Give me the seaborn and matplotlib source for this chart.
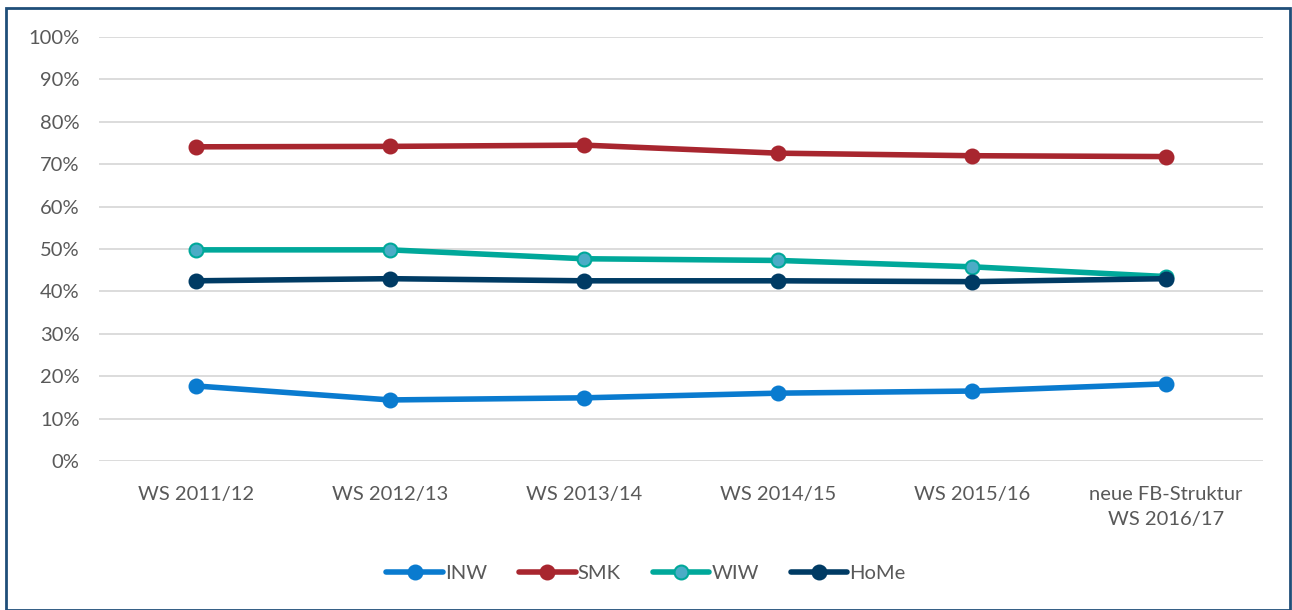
import numpy as np
import pandas as pd
import matplotlib.pyplot as plt
import seaborn as sns
from matplotlib.patches import Rectangle

semester = ["WS 2011/12", "WS 2012/13", "WS 2013/14", "WS 2014/15", "WS 2015/16",
            "neue FB-Struktur\nWS 2016/17"]
inw = [17.7, 14.4, 14.9, 16.0, 16.5, 18.2]
smk = [74.1, 74.2, 74.5, 72.6, 72.0, 71.8]
wiw = [49.8, 49.8, 47.7, 47.3, 45.8, 43.5]
home = [42.5, 43.0, 42.5, 42.5, 42.3, 43.0]

series = {"INW": inw, "SMK": smk, "WIW": wiw, "HoMe": home}
colors = {"INW": "#0A7BCF", "SMK": "#A8262F", "WIW": "#00A89A", "HoMe": "#003B64"}
faces = {"INW": "#0A7BCF", "SMK": "#A8262F", "WIW": "#4BACC6", "HoMe": "#003B64"}

rows = []
for name, vals in series.items():
    for i, v in enumerate(vals):
        rows.append({"x": i, "y": v, "series": name})
df = pd.DataFrame(rows)

sns.set_style("white")
plt.rcParams['font.family'] = ['Lato', 'DejaVu Sans']

fig = plt.figure(figsize=(12.92, 6.10), dpi=100)
ax = fig.add_axes([99/1292, 1-461/610, 1164/1292, 424/610])

sns.lineplot(data=df, x="x", y="y", hue="series", palette=colors, ax=ax,
             marker="o", markersize=10, linewidth=4, legend=False)
names = list(series)
for line, name in zip(ax.lines, names):
    line.set_markerfacecolor(faces[name])
    line.set_markeredgecolor(colors[name])
    line.set_markeredgewidth(1.5)

ax.set_xlim(-0.5, 5.5)
ax.set_ylim(0, 100)
ax.set_yticks(np.arange(0, 101, 10))
ax.set_yticklabels([f"{t}%" for t in range(0, 101, 10)])
ax.set_xticks(range(len(semester)))
ax.set_xticklabels(semester, linespacing=1.6)
ax.yaxis.grid(True, color="#D9D9D9", linewidth=1.3)
ax.set_axisbelow(True)
for s in ax.spines.values():
    s.set_visible(False)
ax.tick_params(axis="both", length=0, labelsize=14.5, colors="#595959")
ax.tick_params(axis="y", pad=14)
ax.tick_params(axis="x", pad=18)
ax.set_xlabel("")
ax.set_ylabel("")

handles = []
for name in series:
    h, = ax.plot([], [], color=colors[name], marker="o", markersize=10, linewidth=4,
                 markerfacecolor=faces[name], markeredgecolor=colors[name],
                 markeredgewidth=1.5, solid_capstyle="round", label=name)
    handles.append(h)
fig.legend(handles=handles, loc="center", bbox_to_anchor=(0.5, 1-573/610), ncol=4,
           frameon=False, fontsize=14.5, handlelength=2.8, handletextpad=0.1,
           columnspacing=1.6, labelcolor="#595959")

fig.patches.append(Rectangle((6/1292, 0), 1284/1292, 1-8/610, transform=fig.transFigure,
                             fill=False, edgecolor="#1F4E79", linewidth=2))

fig.savefig("out.png", dpi=100)
